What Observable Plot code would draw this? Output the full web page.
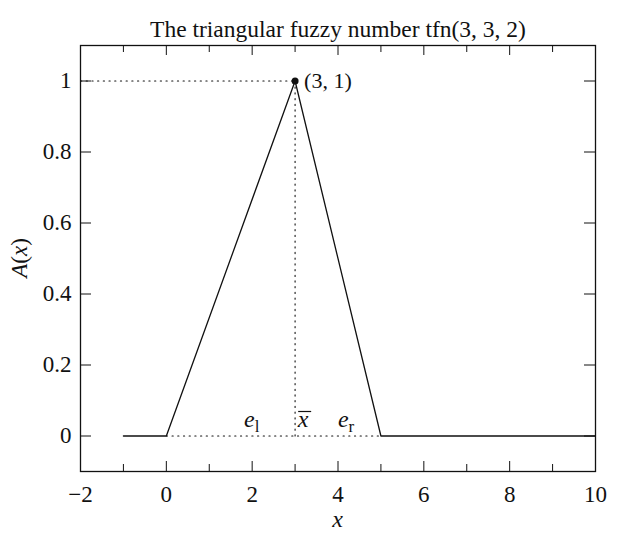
<!DOCTYPE html>
<html>
<head>
<meta charset="utf-8">
<script src="https://cdn.jsdelivr.net/npm/d3@7"></script>
<script src="https://cdn.jsdelivr.net/npm/@observablehq/plot@0.6"></script>
<style>
  html, body { margin: 0; padding: 0; background: #fff; }
  svg { display: block; }
</style>
</head>
<body>
<div id="chart"></div>
<script>
// Membership function of tfn(3, 3, 2)
const xs = [-1, 0, 3, 5, 10];
const ys = [0, 0, 1, 0, 0];
const peak = [{x: 3, y: 1}];
const peakLabel = "(3, 1)";
const title = "The triangular fuzzy number tfn(3, 3, 2)";
const xMajor = [-2, 0, 2, 4, 6, 8, 10];
const xMinor = [-1, 1, 3, 5, 7, 9];
const yTicks = [0, 0.2, 0.4, 0.6, 0.8, 1];

const line = xs.map((x, i) => ({x, y: ys[i]}));
const FONT = "Liberation Serif, Times New Roman, serif";
const W = 631, H = 535;
const mL = 80, mR = 36, mT = 45, mB = 64;
const fw = W - mL - mR, fh = H - mT - mB;
const INK = "#111";

const plot = Plot.plot({
  width: W, height: H,
  marginLeft: mL, marginRight: mR, marginTop: mT, marginBottom: mB,
  x: {domain: [-2, 10], axis: null},
  y: {domain: [-0.1, 1.1], axis: null},
  style: {fontFamily: FONT, fontSize: "23px", color: INK, background: "#fff"},
  marks: [
    Plot.frame({stroke: INK, strokeWidth: 1.3}),
    // inward ticks
    Plot.ruleX(xMajor, {insetTop: fh - 10, stroke: INK, strokeWidth: 1}),
    Plot.ruleX(xMajor, {insetBottom: fh - 10, stroke: INK, strokeWidth: 1}),
    Plot.ruleX(xMinor, {insetTop: fh - 7, stroke: INK, strokeWidth: 1}),
    Plot.ruleX(xMinor, {insetBottom: fh - 7, stroke: INK, strokeWidth: 1}),
    Plot.ruleY(yTicks, {insetRight: fw - 11, stroke: INK, strokeWidth: 1}),
    Plot.ruleY(yTicks, {insetLeft: fw - 11, stroke: INK, strokeWidth: 1}),
    Plot.axisX(xMajor, {tickSize: 0, tickPadding: 14, label: null, fontSize: 23, fill: INK}),
    Plot.axisY(yTicks, {tickSize: 0, tickPadding: 9, label: null, fontSize: 23, fill: INK, tickFormat: d => String(d)}),
    // dotted guides
    Plot.line([{x: -2, y: 1}, {x: 3, y: 1}], {x: "x", y: "y", stroke: INK, strokeWidth: 1.1, strokeDasharray: "1.2,4.5"}),
    Plot.line([{x: 3, y: 0}, {x: 3, y: 1}], {x: "x", y: "y", stroke: INK, strokeWidth: 1.1, strokeDasharray: "1.2,4.5"}),
    Plot.line([{x: 0, y: 0}, {x: 5, y: 0}], {x: "x", y: "y", stroke: INK, strokeWidth: 1.1, strokeDasharray: "1.2,4.5"}),
    // membership function
    Plot.line(line, {x: "x", y: "y", stroke: INK, strokeWidth: 1.3}),
    Plot.dot(peak, {x: "x", y: "y", r: 3.5, fill: INK, stroke: "none"}),
    Plot.text(peak, {x: "x", y: "y", text: () => peakLabel, textAnchor: "start", dx: 9, fontSize: 22, fill: INK}),
    // title
    Plot.text([title], {frameAnchor: "top", dy: -25, fontSize: 23.5, fill: INK})
  ]
});
document.getElementById("chart").appendChild(plot);

// rich-text labels (italic, subscripts, overline) placed with the plot's scales
const sx = plot.scale("x"), sy = plot.scale("y");
const svg = d3.select(plot);
const g = svg.append("g").attr("font-family", FONT).attr("fill", INK);

// x axis label
g.append("text").attr("x", mL + fw / 2).attr("y", H - 8)
  .attr("text-anchor", "middle").attr("font-size", 24).attr("font-style", "italic").attr("fill", INK).text("x");

// y axis label A(x)
const yl = g.append("text").attr("transform", `translate(27,${mT + fh / 2}) rotate(-90)`)
  .attr("text-anchor", "middle").attr("font-size", 23).attr("fill", INK);
yl.append("tspan").attr("font-style", "italic").attr("fill", INK).text("A");
yl.append("tspan").attr("fill", INK).text("(");
yl.append("tspan").attr("font-style", "italic").attr("fill", INK).text("x");
yl.append("tspan").attr("fill", INK).text(")");

const baseY = sy.apply(0) - 9;
function sub(xv, main, s) {
  const t = g.append("text").attr("x", sx.apply(xv)).attr("y", baseY)
    .attr("text-anchor", "middle").attr("font-size", 24).attr("fill", INK);
  t.append("tspan").attr("font-style", "italic").attr("fill", INK).text(main);
  t.append("tspan").attr("font-size", 17).attr("dy", 5).attr("fill", INK).text(s);
}
sub(2.0, "e", "l");
sub(4.2, "e", "r");
// x-bar
const xb = sx.apply(3.2);
g.append("text").attr("x", xb).attr("y", baseY).attr("text-anchor", "middle")
  .attr("font-size", 24).attr("font-style", "italic").attr("fill", INK).text("x");
g.append("line").attr("x1", xb - 5).attr("x2", xb + 8).attr("y1", baseY - 15).attr("y2", baseY - 15)
  .attr("stroke", INK).attr("stroke-width", 1.2);
</script>
</body>
</html>
